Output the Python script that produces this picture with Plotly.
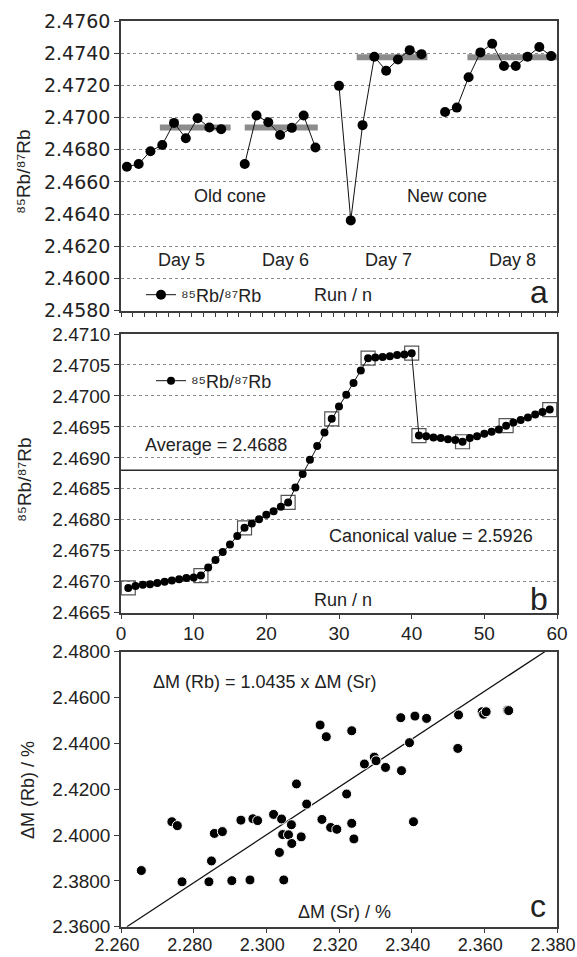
import plotly.graph_objects as go

# ---------------- Panel a data ----------------
DAY5 = [2.46694, 2.46712, 2.46791, 2.46830, 2.46967, 2.46872, 2.46996, 2.46938, 2.46928]
DAY6 = [2.46712, 2.47013, 2.46971, 2.46892, 2.46936, 2.47013, 2.46814]
DAY7 = [2.47197, 2.46361, 2.46953, 2.47378, 2.47291, 2.47361, 2.47419, 2.47394]
DAY8 = [2.47035, 2.47062, 2.47251, 2.47405, 2.47459, 2.47320, 2.47320, 2.47378, 2.47438, 2.47382]
DAY_LABELS = ["Day 5", "Day 6", "Day 7", "Day 8"]
DAY_MEAN = [2.46938, 2.46938, 2.47375, 2.47375]
MEAN_START = [3.8, 11.0, 20.5, 29.9]
MEAN_END = [9.8, 17.2, 26.5, 37.5]
CONE_LABELS = ["Old cone", "New cone"]

# ---------------- Panel b data ----------------
RUN_B = list(range(1, 60))
RATIO_B = [2.46690, 2.46693, 2.46695, 2.46696, 2.46698, 2.46700, 2.46702, 2.46704, 2.46706, 2.46707,
           2.46710, 2.46723, 2.46735, 2.46748, 2.46760, 2.46774, 2.46787, 2.46794, 2.46801, 2.46808,
           2.46814, 2.46821, 2.46828, 2.46852, 2.46874, 2.46897, 2.46919, 2.46941, 2.46963, 2.46983,
           2.47002, 2.47021, 2.47041, 2.47061, 2.47062, 2.47063, 2.47064, 2.47066, 2.47067, 2.47069,
           2.46936, 2.46935, 2.46933, 2.46932, 2.46930, 2.46929, 2.46926, 2.46932, 2.46935, 2.46939,
           2.46942, 2.46946, 2.46952, 2.46957, 2.46961, 2.46965, 2.46970, 2.46974, 2.46978]
SQUARE_RUNS = [1, 11, 17, 23, 29, 34, 40, 41, 47, 53, 59]
AVERAGE_B = 2.4688
CANONICAL = 2.5926

# ---------------- Panel c data ----------------
DM_SR = [2.2656, 2.2740, 2.2755, 2.2768, 2.2842, 2.2849, 2.2857, 2.2879, 2.2905, 2.2930,
         2.2955, 2.2963, 2.2976, 2.3020, 2.3036, 2.3042, 2.3045, 2.3048, 2.3061, 2.3069,
         2.3070, 2.3083, 2.3096, 2.3111, 2.3148, 2.3153, 2.3165, 2.3177, 2.3194, 2.3221,
         2.3235, 2.3235, 2.3241, 2.3270, 2.3297, 2.3302, 2.3328, 2.3370, 2.3372, 2.3394,
         2.3405, 2.3409, 2.3441, 2.3529, 2.3527, 2.3594, 2.3598, 2.3605, 2.3664, 2.3667]
DM_RB = [2.3845, 2.4058, 2.4041, 2.3796, 2.3796, 2.3887, 2.4007, 2.4015, 2.3801, 2.4065,
         2.3804, 2.4071, 2.4063, 2.4090, 2.3924, 2.4070, 2.4002, 2.3804, 2.4001, 2.4045,
         2.3963, 2.4223, 2.3992, 2.4135, 2.4480, 2.4068, 2.4429, 2.4033, 2.4025, 2.4179,
         2.4455, 2.4051, 2.3983, 2.4310, 2.4340, 2.4324, 2.4295, 2.4512, 2.4281, 2.4403,
         2.4058, 2.4519, 2.4509, 2.4524, 2.4378, 2.4538, 2.4527, 2.4538, 2.4545, 2.4543]
SLOPE = 1.0435

RB_LABEL = "⁸⁵Rb/⁸⁷Rb"
FONT = "Liberation Sans, Arial, sans-serif"
TXT = "#222222"
AX = "#3c3c3c"

fig = go.Figure()

# ----- panel a -----
days = [DAY5, DAY6, DAY7, DAY8]
xa, ya = [], []
pos = 1
for d in days:
    for v in d:
        xa.append(pos); ya.append(v); pos += 1
    xa.append(pos); ya.append(None); pos += 1
xa, ya = xa[:-1], ya[:-1]

for m, s, e in zip(DAY_MEAN, MEAN_START, MEAN_END):
    fig.add_trace(go.Scatter(x=[s, e], y=[m, m], mode="lines", line=dict(color="#8c8c8c", width=6),
                             showlegend=False, hoverinfo="skip", xaxis="x", yaxis="y"))
fig.add_trace(go.Scatter(x=xa, y=ya, mode="lines+markers", connectgaps=False,
                         line=dict(color="#111111", width=1),
                         marker=dict(color="#000000", size=10),
                         name=RB_LABEL, legend="legend",
                         xaxis="x", yaxis="y"))

# ----- panel b -----
sq_y = [RATIO_B[RUN_B.index(r)] for r in SQUARE_RUNS]
fig.add_trace(go.Scatter(x=SQUARE_RUNS, y=sq_y, mode="markers",
                         marker=dict(symbol="square-open", size=14, color="#555555", line=dict(width=1.2)),
                         showlegend=False, hoverinfo="skip", xaxis="x2", yaxis="y2"))
fig.add_trace(go.Scatter(x=RUN_B, y=RATIO_B, mode="lines+markers",
                         line=dict(color="#111111", width=1),
                         marker=dict(color="#000000", size=8),
                         name=RB_LABEL, legend="legend2",
                         xaxis="x2", yaxis="y2"))

# ----- panel c -----
fig.add_trace(go.Scatter(x=[2.36 / SLOPE, 2.48 / SLOPE], y=[2.36, 2.48], mode="lines",
                         line=dict(color="#111111", width=1.3), showlegend=False,
                         xaxis="x3", yaxis="y3"))
fig.add_trace(go.Scatter(x=DM_SR, y=DM_RB, mode="markers",
                         marker=dict(color="#000000", size=10, line=dict(color="white", width=1)),
                         showlegend=False, xaxis="x3", yaxis="y3"))

fig.add_shape(type="line", xref="x2 domain", yref="y2", x0=0, x1=1, y0=AVERAGE_B, y1=AVERAGE_B,
              line=dict(color="#2a2a2a", width=1.5))

# domains
H = 957; T = 21; B = 30
ph = H - T - B
def dom(top, bottom):
    return [(H - B - bottom) / ph, (H - B - top) / ph]

common = dict(showline=True, linecolor=AX, linewidth=1.5, mirror=True, ticks="outside",
              ticklen=5, tickwidth=1.2, tickcolor=AX, zeroline=False, automargin=False,
              tickfont=dict(family=FONT, size=19, color=TXT))
grid = dict(showgrid=True, gridcolor="#8a8a8a", gridwidth=1, griddash="3px,3px")

ya_ticks = [round(2.458 + 0.002 * k, 4) for k in range(10)]
yb_ticks = [round(2.4665 + 0.0005 * k, 4) for k in range(10)]
xc_ticks = [round(2.26 + 0.02 * k, 3) for k in range(7)]
yc_ticks = [round(2.36 + 0.02 * k, 3) for k in range(7)]

fig.update_layout(
    width=577, height=957,
    margin=dict(l=121, r=20, t=T, b=B, autoexpand=False),
    paper_bgcolor="white", plot_bgcolor="white",
    font=dict(family=FONT, color=TXT, size=18),
    xaxis=dict(common, range=[0.5, 37.5], tickvals=[0.5 + k for k in range(38)],
               showticklabels=False, showgrid=False, anchor="y", domain=[0, 1]),
    yaxis=dict(common, **grid, range=[2.458, 2.476], tickvals=ya_ticks,
               ticktext=["%.4f" % v for v in ya_ticks],
               domain=dom(21, 310.7), anchor="x",
               tickfont=dict(family="DejaVu Sans, sans-serif", size=19, color=TXT)),
    xaxis2=dict(common, range=[0, 60], dtick=10, tick0=0, showgrid=False, anchor="y2", domain=[0, 1],
                ticklabeloverflow="allow", ticklabelstandoff=-2),
    yaxis2=dict(common, **grid, range=[2.4665, 2.4710], tickvals=yb_ticks,
                ticktext=["%.4f" % v for v in yb_ticks],
                domain=dom(334, 612.7), anchor="x2"),
    xaxis3=dict(common, range=[2.26, 2.38], tickvals=xc_ticks,
                ticktext=["%.3f" % v for v in xc_ticks], ticklabeloverflow="allow",
                ticklabelstandoff=-4, ticklabelshift=-4,
                tickfont=dict(family=FONT, size=18, color=TXT),
                showgrid=False, anchor="y3", domain=[0, 1]),
    yaxis3=dict(common, range=[2.36, 2.48], tickvals=yc_ticks,
                ticktext=["%.4f" % v for v in yc_ticks],
                showgrid=False, domain=dom(651.7, 926.7), anchor="x3"),
    legend=dict(x=(141 - 121) / 436, y=(H - B - 295) / ph, xanchor="left", yanchor="middle",
                bgcolor="rgba(0,0,0,0)", font=dict(size=18, family=FONT, color=TXT)),
    legend2=dict(x=(151 - 121) / 436, y=(H - B - 381) / ph, xanchor="left", yanchor="middle",
                 bgcolor="rgba(0,0,0,0)", font=dict(size=18, family=FONT, color=TXT)),
)

def px(x):
    return (x - 121) / 436
def py(y):
    return (H - B - y) / ph

ann = []
def txt(t, x, y, size=18, **kw):
    ann.append(dict(text=t, x=px(x), y=py(y), xref="paper", yref="paper", showarrow=False,
                    xanchor="center", yanchor="middle", font=dict(size=size, family=FONT, color=TXT), **kw))

for lab, x in zip(DAY_LABELS, [181.4, 285.6, 388, 512.4]):
    txt(lab, x, 260)
txt(CONE_LABELS[0], 230.4, 196)
txt(CONE_LABELS[1], 447.3, 196)
txt("Run / n", 343, 295)
txt("a", 539, 292, size=32)
txt("Average = %.4f" % AVERAGE_B, 216, 444.7)
txt("Canonical value = %.4f" % CANONICAL, 431, 536)
txt("Run / n", 343, 600)
txt("b", 539, 599, size=32)
txt("ΔM (Rb) = %.4f x ΔM (Sr)" % SLOPE, 265, 681.7)
txt("ΔM (Sr) / %", 344, 911.7)
txt("c", 538, 906, size=32)
txt(RB_LABEL, 24, 172, size=19, textangle=-90)
txt(RB_LABEL, 24, 480, size=19, textangle=-90)
txt("ΔM (Rb) / %", 28, 790, size=18, textangle=-90)
fig.update_layout(annotations=ann)

fig.write_html("out.html", config={"displayModeBar": False},
               post_script="document.body.style.margin='0';")
